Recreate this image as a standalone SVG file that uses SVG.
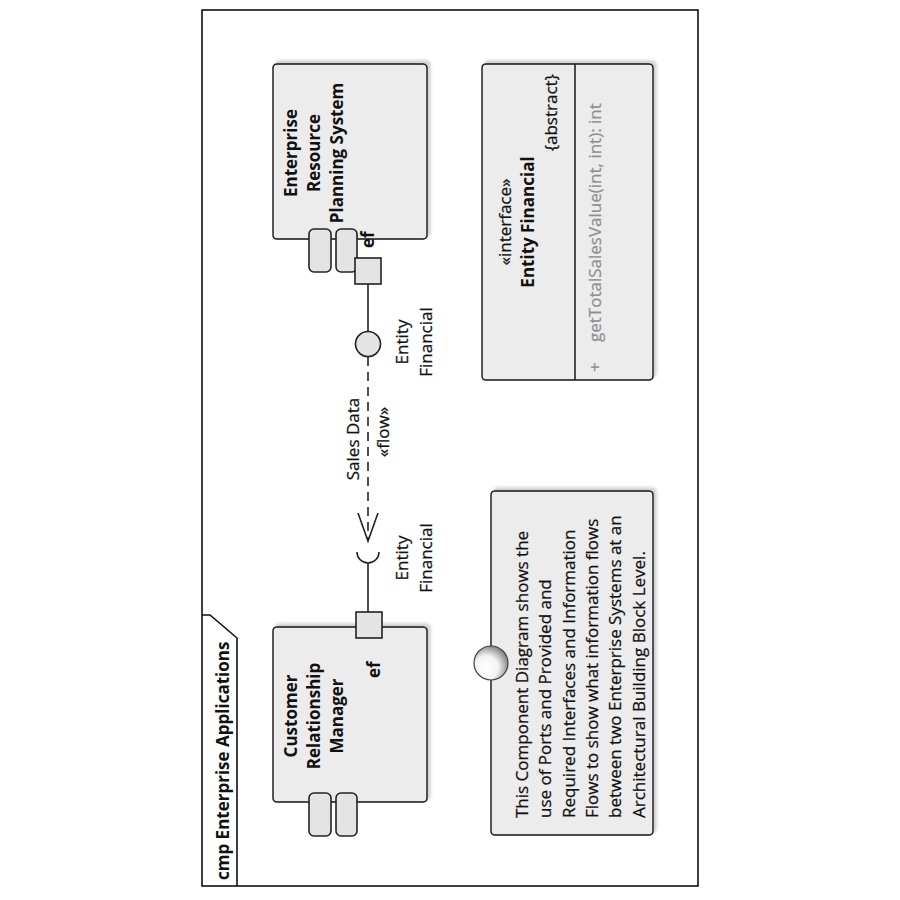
<svg xmlns="http://www.w3.org/2000/svg" width="900" height="900" viewBox="0 0 900 900">
  <style>
    text { font-family: "Open Sans", "Noto Sans", "DejaVu Sans", sans-serif; fill: #111; stroke: #111; stroke-width: 0.25; font-size: 17px; }
    .b { font-weight: bold; stroke-width: 0; }
    .mid { text-anchor: middle; }
    .end { text-anchor: end; }
    .op { fill: #8f8f8f; stroke: #8f8f8f; }
    .box { fill: #ececec; stroke: #222; stroke-width: 1.6; }
    .icon { fill: #e4e4e4; stroke: #222; stroke-width: 1.6; }
    .port { fill: #e4e4e4; stroke: #222; stroke-width: 1.6; }
    .line { fill: none; stroke: #222; stroke-width: 1.6; }
    .flow { fill: none; stroke: #222; stroke-width: 1.6; stroke-dasharray: 9 6; }
  </style>
  <defs>
    <filter id="shadow" x="-10%" y="-10%" width="130%" height="130%">
      <feDropShadow dx="3" dy="3" stdDeviation="1.5" flood-color="#000" flood-opacity="0.18"/>
    </filter>
    <radialGradient id="ball" cx="0.38" cy="0.38" r="0.62" fx="0.35" fy="0.35">
      <stop offset="0" stop-color="#ffffff"/>
      <stop offset="0.55" stop-color="#f4f4f4"/>
      <stop offset="0.8" stop-color="#bdbdbd"/>
      <stop offset="1" stop-color="#8c8c8c"/>
    </radialGradient>
  </defs>

  <rect width="900" height="900" fill="#ffffff"/>

  <!-- the whole diagram is laid out on its side -->
  <g transform="translate(0,900) rotate(-90)">

    <!-- diagram frame -->
    <g id="frame">
      <rect x="14" y="202" width="876" height="496" fill="#ffffff" stroke="#111" stroke-width="1.6"/>
      <path d="M14,237 H262 L285,210 V202" fill="none" stroke="#111" stroke-width="1.6"/>
      <text class="b" x="20" y="229">cmp Enterprise Applications</text>
    </g>

    <!-- Enterprise Resource Planning System -->
    <g id="erp">
      <rect class="box" x="661" y="273" width="175" height="154" rx="4" filter="url(#shadow)"/>
      <rect class="icon" x="628" y="309" width="43" height="22" rx="5"/>
      <rect class="icon" x="628" y="336" width="43" height="21" rx="5"/>
      <text class="b mid" x="747" y="297">Enterprise</text>
      <text class="b mid" x="747" y="320">Resource</text>
      <text class="b mid" x="747" y="343">Planning System</text>
      <rect class="port" x="616" y="355" width="26" height="26"/>
      <text class="b" x="652" y="374" font-size="14">ef</text>
      <!-- provided interface -->
      <line class="line" x1="616" y1="368" x2="569" y2="368"/>
      <circle cx="556" cy="368" r="12.5" fill="#e4e4e4" stroke="#222" stroke-width="1.6"/>
      <text class="mid" x="558" y="408">Entity</text>
      <text class="mid" x="558" y="432">Financial</text>
    </g>

    <!-- Customer Relationship Manager -->
    <g id="crm">
      <rect class="box" x="98" y="273" width="175" height="154" rx="4" filter="url(#shadow)"/>
      <rect class="icon" x="64" y="309" width="43" height="22" rx="5"/>
      <rect class="icon" x="64" y="336" width="43" height="21" rx="5"/>
      <text class="b mid" x="184" y="297">Customer</text>
      <text class="b mid" x="184" y="320">Relationship</text>
      <text class="b mid" x="184" y="343">Manager</text>
      <rect class="port" x="262" y="356" width="26" height="26"/>
      <text class="b" x="222" y="380" font-size="14">ef</text>
      <!-- required interface -->
      <line class="line" x1="288" y1="368" x2="337" y2="368"/>
      <path class="line" d="M348,357 A11,11 0 0 0 348,379"/>
      <text class="mid" x="342" y="408">Entity</text>
      <text class="mid" x="342" y="432">Financial</text>
    </g>

    <!-- information flow -->
    <g id="connectors">
      <line class="flow" x1="543" y1="368" x2="359" y2="368"/>
      <polyline class="line" points="387,358 359,368 387,378"/>
      <text class="mid" x="461" y="359">Sales Data</text>
      <text class="mid" x="468" y="389">«flow»</text>
    </g>

    <!-- interface class -->
    <g id="entity-financial">
      <rect class="box" x="520" y="482" width="316" height="171" rx="4" filter="url(#shadow)"/>
      <line class="line" x1="520" y1="575" x2="836" y2="575"/>
      <text class="mid" x="678" y="511">«interface»</text>
      <text class="b mid" x="678" y="534">Entity Financial</text>
      <text class="end" x="826" y="557">{abstract}</text>
      <text class="op" x="528" y="601">+</text>
      <text class="op" x="558" y="601">getTotalSalesValue(int, int): int</text>
    </g>

    <!-- note -->
    <g id="note">
      <rect class="box" x="65" y="491" width="344" height="162" rx="4" filter="url(#shadow)"/>
      <circle cx="237" cy="491" r="17" fill="url(#ball)" stroke="#444" stroke-width="1.2"/>
      <text x="82" y="528">This Component Diagram shows the</text>
      <text x="82" y="551">use of Ports and Provided and</text>
      <text x="82" y="575">Required Interfaces and Information</text>
      <text x="82" y="598">Flows to show what information flows</text>
      <text x="82" y="621">between two Enterprise Systems at an</text>
      <text x="82" y="645">Architectural Building Block Level.</text>
    </g>
  </g>
</svg>
